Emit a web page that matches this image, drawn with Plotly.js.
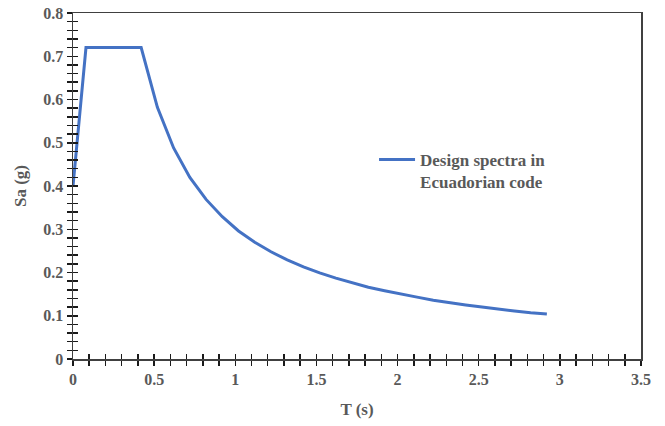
<!DOCTYPE html>
<html>
<head>
<meta charset="utf-8">
<script src="https://cdn.plot.ly/plotly-3.0.1.min.js"></script>
<style>html,body{margin:0;padding:0;background:#fff;}#chart{width:665px;height:426px;}</style>
</head>
<body>
<div id="chart"></div>
<script>
// Period T (s)
var periodT = [0, 0.08, 0.42, 0.52, 0.62, 0.72, 0.82, 0.92, 1.02, 1.12, 1.22, 1.32, 1.42, 1.52, 1.62, 1.72, 1.82, 1.92, 2.02, 2.12, 2.22, 2.32, 2.42, 2.52, 2.62, 2.72, 2.82, 2.92];
// Spectral acceleration Sa (g)
var spectralSa = [0.40, 0.72, 0.72, 0.582, 0.488, 0.42, 0.369, 0.329, 0.296, 0.270, 0.248, 0.229, 0.213, 0.199, 0.187, 0.176, 0.166, 0.158, 0.150, 0.143, 0.136, 0.130, 0.125, 0.120, 0.115, 0.111, 0.107, 0.104];
var seriesName = 'Design spectra in<br>Ecuadorian code';
var xTickVals = [0, 0.5, 1, 1.5, 2, 2.5, 3, 3.5];
var xTickText = ['0', '0.5', '1', '1.5', '2', '2.5', '3', '3.5'];
var yTickVals = [0, 0.1, 0.2, 0.3, 0.4, 0.5, 0.6, 0.7, 0.8];
var yTickText = ['0', '0.1', '0.2', '0.3', '0.4', '0.5', '0.6', '0.7', '0.8'];

var fontFam = '"Liberation Serif", "Times New Roman", serif';
var grey = '#595959';
var tickCol = '#1a1a1a';

var traces = [
  {x: periodT, y: spectralSa, type: 'scatter', mode: 'lines', name: seriesName,
   line: {color: '#4472C4', width: 3}, xaxis: 'x', yaxis: 'y'},
  {x: [0], y: [0], type: 'scatter', mode: 'markers', marker: {opacity: 0}, showlegend: false,
   hoverinfo: 'skip', xaxis: 'x2', yaxis: 'y2'}
];

var axisCommon = {
  showgrid: false, zeroline: false, linecolor: '#404040', linewidth: 1.5,
  tickcolor: tickCol, tickwidth: 1.5, ticklen: 5,
  tickfont: {family: fontFam, size: 16, color: grey, weight: 'bold'}
};
var innerCommon = {
  showticklabels: false, showgrid: false, zeroline: false, showline: false,
  ticks: 'inside', ticklen: 5, tickcolor: tickCol, tickwidth: 1.5
};

var layout = {
  width: 665, height: 426,
  margin: {l: 73, r: 24, t: 13, b: 67},
  paper_bgcolor: '#fff', plot_bgcolor: '#fff',
  showlegend: true,
  legend: {x: 0.53, y: 0.627, xanchor: 'left', yanchor: 'top', valign: 'top',
           bgcolor: 'rgba(0,0,0,0)', tracegroupgap: 0, itemwidth: 36,
           font: {family: fontFam, size: 17, color: grey, weight: 'bold'}},
  xaxis: Object.assign({}, axisCommon, {
    range: [0, 3.5], tickmode: 'array', tickvals: xTickVals, ticktext: xTickText,
    ticks: 'outside', showline: true, mirror: true,
    minor: {dtick: 0.1, tick0: 0, ticks: 'outside', ticklen: 5, tickcolor: tickCol, tickwidth: 1.5},
    title: {text: 'T (s)', font: {family: fontFam, size: 17, color: grey, weight: 'bold'}, standoff: 16}
  }),
  yaxis: Object.assign({}, axisCommon, {
    range: [0, 0.8], tickmode: 'array', tickvals: yTickVals, ticktext: yTickText,
    ticks: 'outside', showline: true, mirror: true,
    minor: {dtick: 0.02, tick0: 0, ticks: 'outside', ticklen: 5, tickcolor: tickCol, tickwidth: 1.5},
    title: {text: 'Sa (g)', font: {family: fontFam, size: 17, color: grey, weight: 'bold'}, standoff: 12}
  }),
  xaxis2: Object.assign({}, innerCommon, {overlaying: 'x', range: [0, 3.5], side: 'bottom', anchor: 'y2',
    tickmode: 'array', tickvals: xTickVals,
    minor: {dtick: 0.1, tick0: 0, ticks: 'inside', ticklen: 5, tickcolor: tickCol, tickwidth: 1.5}}),
  yaxis2: Object.assign({}, innerCommon, {overlaying: 'y', range: [0, 0.8], side: 'left', anchor: 'x2',
    tickmode: 'array', tickvals: yTickVals,
    minor: {dtick: 0.02, tick0: 0, ticks: 'inside', ticklen: 5, tickcolor: tickCol, tickwidth: 1.5}})
};

Plotly.newPlot('chart', traces, layout, {displayModeBar: false, staticPlot: true});
</script>
</body>
</html>
